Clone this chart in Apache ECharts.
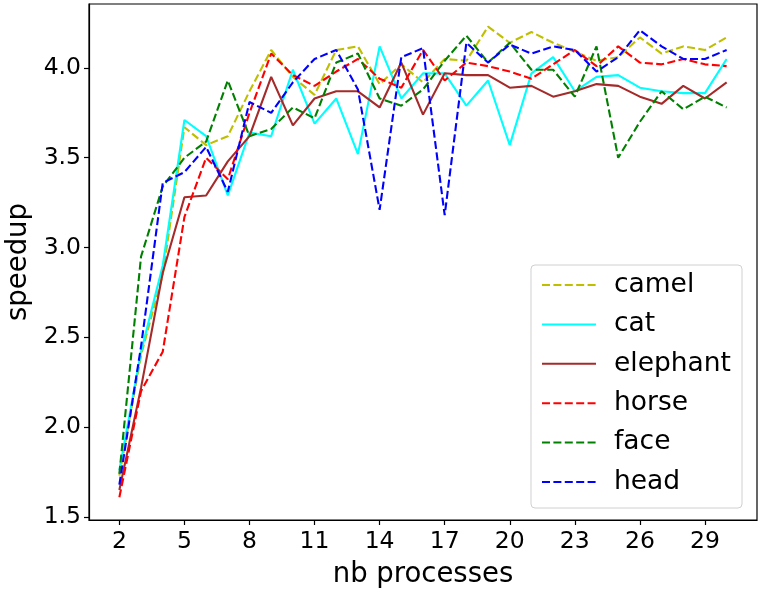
<!DOCTYPE html>
<html>
<head>
<meta charset="utf-8">
<script src="https://cdn.jsdelivr.net/npm/echarts@6/dist/echarts.min.js"></script>
<style>
  html, body { margin: 0; padding: 0; background: #fff; }
  #chart { width: 761px; height: 594px; }
</style>
</head>
<body>
<div id="chart"></div>
<script>
// nb processes
const processes = [2,3,4,5,6,7,8,9,10,11,12,13,14,15,16,17,18,19,20,21,22,23,24,25,26,27,28,29,30];
// speedup per model
const camel    = [1.73,2.40,2.85,3.67,3.57,3.62,3.87,4.10,3.95,3.85,4.10,4.12,3.91,4.02,3.92,4.05,4.04,4.23,4.14,4.20,4.14,4.09,4.04,4.06,4.17,4.08,4.12,4.10,4.17];
const cat      = [1.76,2.42,2.90,3.71,3.62,3.29,3.64,3.62,3.99,3.69,3.83,3.52,4.12,3.83,3.97,3.97,3.79,3.93,3.57,3.97,4.06,3.87,3.95,3.96,3.89,3.87,3.86,3.86,4.05];
const elephant = [1.65,2.22,2.86,3.28,3.29,3.48,3.62,3.95,3.68,3.83,3.87,3.87,3.78,4.03,3.74,3.97,3.96,3.96,3.89,3.90,3.84,3.87,3.91,3.90,3.84,3.80,3.90,3.83,3.92];
const horse    = [1.61,2.20,2.42,3.17,3.50,3.38,3.75,4.08,3.96,3.90,3.98,4.05,3.94,3.89,4.10,3.93,4.03,4.01,3.98,3.94,4.02,4.10,4.01,4.12,4.03,4.02,4.05,4.02,4.01];
const face     = [1.74,2.95,3.34,3.50,3.59,3.93,3.62,3.66,3.78,3.72,4.03,4.08,3.83,3.79,3.88,4.04,4.18,4.03,4.14,3.99,3.99,3.84,4.12,3.50,3.70,3.87,3.77,3.84,3.78];
const head     = [1.68,2.45,3.36,3.42,3.56,3.31,3.81,3.75,3.92,4.05,4.10,3.88,3.21,4.06,4.11,3.18,4.14,4.03,4.13,4.08,4.12,4.10,3.98,4.06,4.21,4.12,4.05,4.05,4.10];

const xTicks = [2,5,8,11,14,17,20,23,26,29];
const yTicks = [1.5,2.0,2.5,3.0,3.5,4.0];

const seriesDefs = [
  { name: 'camel',    data: camel,    color: '#bfbf00', dashed: true },
  { name: 'cat',      data: cat,      color: '#00ffff', dashed: false },
  { name: 'elephant', data: elephant, color: '#a52a2a', dashed: false },
  { name: 'horse',    data: horse,    color: '#ff0000', dashed: true },
  { name: 'face',     data: face,     color: '#008000', dashed: true },
  { name: 'head',     data: head,     color: '#0000ff', dashed: true }
];

const FONT = 'DejaVu Sans';
const chart = echarts.init(document.getElementById('chart'), null, { renderer: 'canvas' });

chart.setOption({
  animation: false,
  backgroundColor: '#ffffff',
  grid: {
    left: 89, right: 4, top: 4, bottom: 74,
    containLabel: false,
    outerBoundsMode: 'none',
    show: true, borderColor: '#000', borderWidth: 1.2, backgroundColor: 'transparent'
  },
  xAxis: {
    type: 'value',
    min: 0.6, max: 31.4,
    name: 'nb processes',
    nameLocation: 'middle',
    nameGap: 41,
    nameTextStyle: { fontFamily: FONT, fontSize: 27.5, color: '#000' },
    axisLine: { show: true, lineStyle: { color: '#000', width: 1.2 } },
    axisTick: { show: true, inside: false, length: 5, customValues: xTicks, lineStyle: { color: '#000', width: 1.2 } },
    axisLabel: { customValues: xTicks, fontFamily: FONT, fontSize: 23.5, color: '#000', margin: 10 },
    splitLine: { show: false }
  },
  yAxis: {
    type: 'value',
    min: 1.483, max: 4.356,
    name: 'speedup',
    nameLocation: 'middle',
    nameGap: 55,
    nameTextStyle: { fontFamily: FONT, fontSize: 27.5, color: '#000' },
    axisLine: { show: true, lineStyle: { color: '#000', width: 1.2 } },
    axisTick: { show: true, inside: false, length: 5, customValues: yTicks, lineStyle: { color: '#000', width: 1.2 } },
    axisLabel: { customValues: yTicks, fontFamily: FONT, fontSize: 23.5, color: '#000', margin: 8,
      formatter: v => Number(v).toFixed(1) },
    splitLine: { show: false }
  },
  legend: {
    orient: 'vertical',
    right: 19,
    top: 265,
    itemWidth: 54,
    itemHeight: 14,
    itemGap: 11.4,
    padding: [6, 11, 12, 10],
    backgroundColor: '#fff',
    borderColor: '#d0d0d0',
    borderWidth: 1,
    borderRadius: 4,
    itemStyle: { opacity: 0 },
    textStyle: { fontFamily: FONT, fontSize: 26.5, color: '#000', lineHeight: 28, padding: [0, 0, 0, 13] },
    data: seriesDefs.map(s => s.name)
  },
  series: seriesDefs.map(s => ({
    name: s.name,
    type: 'line',
    data: processes.map((p, i) => [p, s.data[i]]),
    symbol: 'none',
    showSymbol: false,
    color: s.color,
    lineStyle: { color: s.color, width: 2.1, type: s.dashed ? [8, 3.4] : 'solid' },
    itemStyle: { color: s.color }
  }))
});
</script>
</body>
</html>
